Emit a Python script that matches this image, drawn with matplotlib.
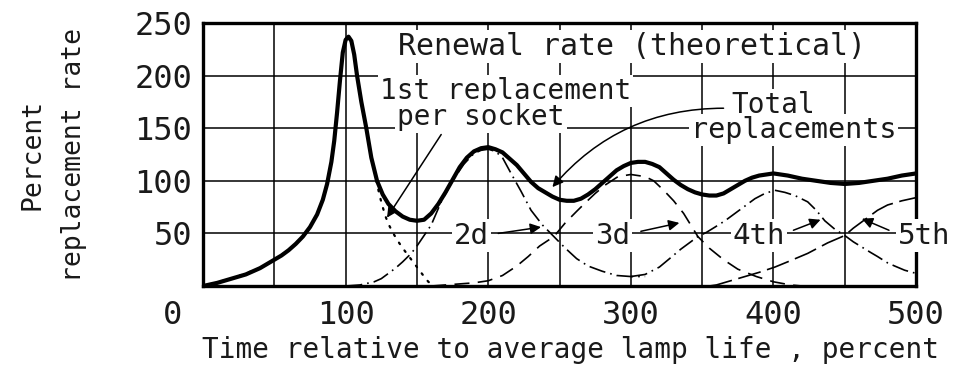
import matplotlib
matplotlib.use('Agg')
import matplotlib.pyplot as plt
from matplotlib.transforms import ScaledTranslation

# wide lettering-guide look of the original -> monospaced face
plt.rcParams['font.family'] = ['DejaVu Sans Mono', 'DejaVu Sans']

# time relative to average lamp life (%) and replacement rate (%)
total_x = [0, 10, 20, 30, 40, 50, 55, 60, 65, 70, 75, 80, 84, 87, 90, 92, 94, 96, 98, 100,
           102, 104, 106, 108, 111, 114.5, 118, 122, 126, 130, 135, 140, 145, 150, 155, 160, 165, 170, 175, 180,
           185, 190, 195, 200, 205, 210, 215, 220, 225, 230, 235, 240, 245, 250, 255, 260, 265, 270, 275, 280,
           285, 290, 295, 300, 305, 310, 315, 320, 325, 330, 335, 340, 345, 350, 355, 360, 365, 370, 375, 380,
           385, 390, 395, 400, 410, 420, 430, 440, 450, 460, 470, 480, 490, 500]
total_y = [0, 3, 7, 11, 17, 25, 29, 34, 40, 47, 56, 68, 82, 97, 118, 138, 165, 195, 222, 234,
           237, 233, 220, 200, 175, 150, 122, 100, 87, 78, 71, 66, 63, 62, 63, 69, 78, 89, 101, 113,
           122, 128, 131, 132, 130, 127, 121, 115, 107, 99, 93, 89, 85, 82, 81, 81, 83, 87, 92, 98,
           104, 110, 114, 117, 118, 118, 116, 113, 107, 101, 96, 92, 89, 87, 86, 86, 88, 92, 96, 100,
           103, 105, 106, 107, 105, 102, 100, 98, 97, 98, 100, 102, 105, 107]

first_x = [0, 20, 40, 50, 60, 70, 75, 80, 84, 87, 90, 92, 94, 96, 98, 100, 102, 104, 106, 108,
           111, 114.5, 118, 120, 122, 124, 126, 128, 130, 133, 136, 140, 145, 150, 155, 158, 162]
first_y = [0, 7, 17, 25, 34, 47, 56, 68, 82, 97, 118, 138, 165, 195, 222, 234, 237, 233, 220, 200,
           175, 150, 122, 110, 97, 85, 75, 66, 59, 51, 44, 36, 27, 18, 9, 4, 0]

second_x = [100, 110, 120, 125, 130, 135, 140, 146, 150, 156, 160, 167, 175, 183, 190, 195, 200, 205, 210, 216,
            223, 230, 238, 246, 254, 262, 270, 280, 290, 300, 310]
second_y = [0, 1, 4, 7, 12, 17, 23, 31, 38, 50, 58, 80, 100, 116, 126, 129, 130, 128, 122, 107,
            90, 72, 58, 47, 36, 26, 19, 14, 10, 9, 9]

third_x = [160, 170, 180, 190, 200, 210, 220, 228, 236, 246, 254, 262, 268, 275, 282, 291, 300, 305, 310, 316,
           323, 330, 337, 342, 347, 355, 365, 375, 388, 400, 412, 420]
third_y = [0, 1, 2, 3, 5, 10, 19, 28, 38, 47, 60, 71, 79, 88, 96, 104, 106, 105, 104, 100,
           91, 81, 69, 58, 47, 36, 25, 16, 9, 4, 1, 0]

fourth_x = [300, 310, 320, 328, 335, 342, 347, 353, 359, 366, 373, 380, 387, 394, 401, 408, 415, 424, 430, 436,
            443, 450, 456, 462, 468, 473, 480, 485, 492, 500]
fourth_y = [9, 11, 18, 27, 35, 42, 47, 51, 56, 62, 69, 76, 83, 88, 91, 89, 86, 80, 72, 62,
            54, 48, 42, 37, 32, 28, 22, 19, 15, 12]

fifth_x = [355, 360, 370, 380, 390, 401, 410, 424, 438, 450, 456, 462, 468, 473, 480, 490, 500]
fifth_y = [0, 1, 5, 9, 13, 18, 23, 31, 41, 48, 55, 61, 67, 72, 77, 81, 84]

x_ticks = [0, 50, 100, 150, 200, 250, 300, 350, 400, 450, 500]
x_labels = ['0', '', '100', '', '200', '', '300', '', '400', '', '500']
y_ticks = [0, 50, 100, 150, 200, 250]
y_labels = ['', '50', '100', '150', '200', '250']

ink = '#1a1a1a'

fig = plt.figure(figsize=(9.65, 3.68), dpi=100)
ax = fig.add_axes([0.2104, 0.2228, 0.7389, 0.7147])

ax.plot(first_x, first_y, color='k', lw=1.6, ls=(0, (0.8, 3.5)), dash_capstyle='round')
ax.plot(second_x, second_y, color='k', lw=1.2, ls=(0, (10, 3, 1, 3)))
ax.plot(third_x, third_y, color='k', lw=1.2, ls=(0, (9, 5)))
ax.plot(fourth_x, fourth_y, color='k', lw=1.2, ls=(0, (10, 3, 1, 3)))
ax.plot(fifth_x, fifth_y, color='k', lw=1.2, ls=(0, (14, 4)))
ax.plot(total_x, total_y, color='k', lw=3.0, solid_joinstyle='round', solid_capstyle='round')

ax.set_xlim(0, 500)
ax.set_ylim(0, 250)
ax.set_xticks(x_ticks)
ax.set_xticklabels(x_labels)
ax.set_yticks(y_ticks)
ax.set_yticklabels(y_labels)
ax.tick_params(length=0, labelsize=23, colors=ink)
ax.tick_params(axis='x', pad=10)
ax.tick_params(axis='y', pad=8)
ax.grid(True, color='k', lw=1.1)
ax.set_axisbelow(True)
for s in ax.spines.values():
    s.set_linewidth(2.4)

# the "0" label sits left of the axis corner in the original
t0 = ax.xaxis.get_major_ticks()[0].label1
t0.set_transform(t0.get_transform() + ScaledTranslation(-0.31, 0, fig.dpi_scale_trans))

ax.set_xlabel('Time relative to average lamp life , percent', fontsize=20, color=ink)
ax.xaxis.label.set_verticalalignment('center')
ax.xaxis.set_label_coords(0.515, -0.243)
ax.set_ylabel('Percent\nreplacement rate', fontsize=19, color=ink, linespacing=1.75)
ax.yaxis.label.set_verticalalignment('center')
ax.yaxis.set_label_coords(-0.21, 0.5)

box = dict(facecolor='white', edgecolor='none', pad=1.5)
txt = dict(color=ink, ha='center', va='center', bbox=box, zorder=6, clip_on=False)
ax.text(301, 228, 'Renewal rate (theoretical)', fontsize=21.5, **txt)
ax.text(212, 185, '1st replacement', fontsize=20, **txt)
ax.text(195, 161, 'per socket', fontsize=20, **txt)
ax.text(400, 172, 'Total', fontsize=20, **txt)
ax.text(414, 148, 'replacements', fontsize=20.5, **txt)
ax.text(188, 48, '2d', fontsize=21, **txt)
ax.text(287, 48, '3d', fontsize=21, **txt)
ax.text(390, 48, '4th', fontsize=21, **txt)
ax.text(506, 48, '5th', fontsize=21, **txt)

arrow = dict(arrowstyle='-|>', color='k', lw=1.1, mutation_scale=16, shrinkA=0, shrinkB=0)
ax.annotate('', xy=(129, 65), xytext=(167, 144), arrowprops=arrow, zorder=7)
ax.annotate('', xy=(245, 94), xytext=(365, 169),
            arrowprops=dict(arrow, connectionstyle='arc3,rad=0.23'), zorder=7)
ax.annotate('', xy=(237, 56), xytext=(207, 50), arrowprops=arrow, zorder=7)
ax.annotate('', xy=(334, 60), xytext=(307, 52), arrowprops=arrow, zorder=7)
ax.annotate('', xy=(433, 63), xytext=(414, 53), arrowprops=arrow, zorder=7)
ax.annotate('', xy=(462, 64), xytext=(481, 53), arrowprops=arrow, zorder=7)

fig.savefig('out.png', dpi=100)
